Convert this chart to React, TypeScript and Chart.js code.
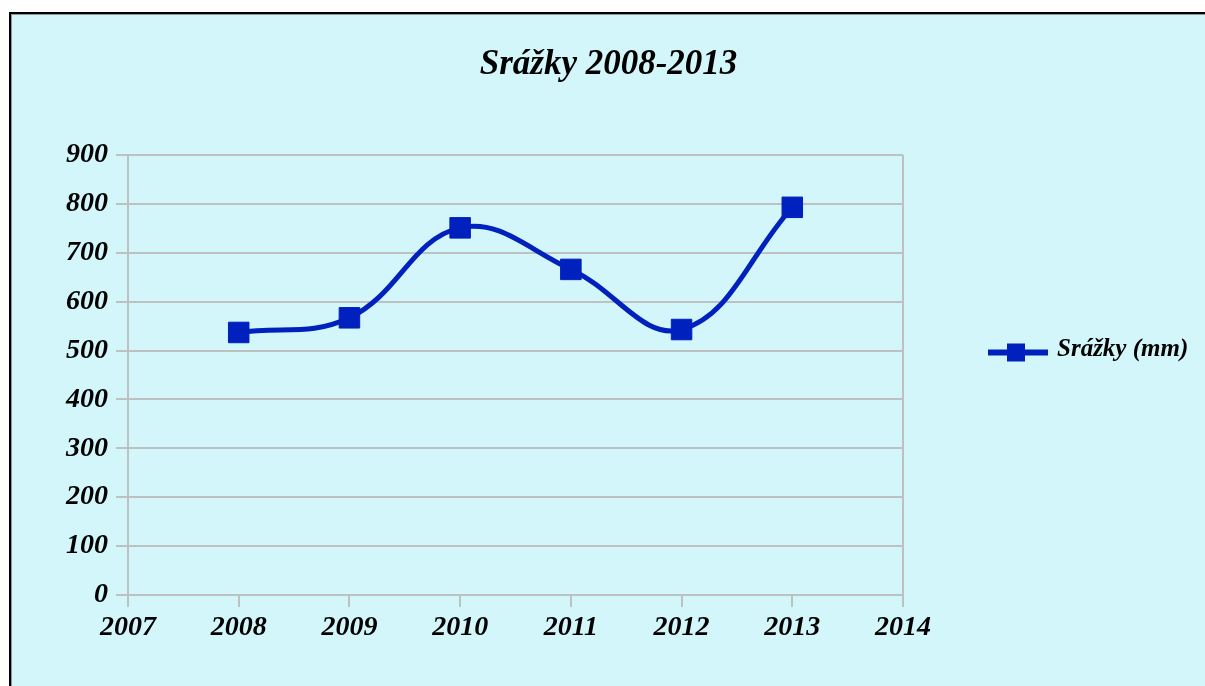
import React, { useEffect, useRef } from "react";
import { Chart, registerables } from "chart.js";

Chart.register(...registerables);

const TITLE = "Srážky 2008-2013";
const SERIES_LABEL = "Srážky (mm)";
const years = [2008, 2009, 2010, 2011, 2012, 2013];
const rainfall = [537, 567, 751, 666, 543, 793];
const X_MIN = 2007;
const X_MAX = 2014;
const Y_MIN = 0;
const Y_MAX = 900;
const Y_STEP = 100;

const BG = "#d2f6fa";
const BLUE = "#0021bd";
const GRID = "#bdc1c1";
const FONT = "'Liberation Serif', 'Times New Roman', serif";

const legendPlugin = {
  id: "lineSquareLegend",
  afterDraw(chart: any) {
    const { ctx, chartArea } = chart;
    const cy = chart.height / 2 + 2;
    const x0 = chartArea.right + 85;
    const x1 = chartArea.right + 145;
    const sx = chartArea.right + 113;
    ctx.save();
    ctx.strokeStyle = BLUE;
    ctx.lineWidth = 6;
    ctx.beginPath();
    ctx.moveTo(x0, cy);
    ctx.lineTo(x1, cy);
    ctx.stroke();
    ctx.fillStyle = BLUE;
    ctx.fillRect(sx - 9, cy - 9, 18, 18);
    ctx.fillStyle = "#000";
    ctx.font = `italic bold 25px ${FONT}`;
    ctx.textBaseline = "middle";
    ctx.textAlign = "left";
    ctx.fillText(SERIES_LABEL, chartArea.right + 154, cy - 3);
    ctx.restore();
  },
};

export default function App() {
  const ref = useRef<HTMLCanvasElement | null>(null);

  useEffect(() => {
    if (!ref.current) return;
    const tickFont = { family: FONT, size: 28, style: "italic" as const, weight: "bold" as const, lineHeight: 1.2 };
    const chart = new Chart(ref.current, {
      type: "line",
      data: {
        datasets: [
          {
            label: SERIES_LABEL,
            data: years.map((x, i) => ({ x, y: rainfall[i] })),
            borderColor: BLUE,
            backgroundColor: BLUE,
            borderWidth: 5,
            tension: 0.4,
            pointStyle: "rect",
            pointRadius: 14.5,
            pointBorderWidth: 1,
            pointBackgroundColor: BLUE,
            pointBorderColor: BLUE,
            fill: false,
          },
        ],
      },
      options: {
        animation: false,
        responsive: false,
        layout: { padding: 0 },
        plugins: {
          legend: { display: false },
          tooltip: { enabled: false },
          title: {
            display: true,
            text: TITLE,
            color: "#000",
            font: { family: FONT, size: 35, style: "italic", weight: "bold", lineHeight: 1.2 },
            padding: { top: 29, bottom: 69 },
          },
        },
        scales: {
          x: {
            type: "linear",
            min: X_MIN,
            max: X_MAX,
            afterFit: (s: any) => {
              s.height = 91;
            },
            ticks: {
              stepSize: 1,
              autoSkip: false,
              maxRotation: 0,
              color: "#000",
              font: tickFont,
              padding: 4,
              callback: (v: any) => String(v),
            },
            grid: {
              drawOnChartArea: true,
              color: (c: any) =>
                c.tick && (c.tick.value === X_MIN || c.tick.value === X_MAX) ? GRID : "rgba(0,0,0,0)",
              tickColor: GRID,
              tickLength: 12,
              lineWidth: 2,
            },
            border: { display: true, color: GRID, width: 2 },
          },
          y: {
            min: Y_MIN,
            max: Y_MAX,
            afterFit: (s: any) => {
              s.width = 116;
            },
            ticks: {
              stepSize: Y_STEP,
              color: "#000",
              font: tickFont,
              padding: 8,
            },
            grid: { color: GRID, tickColor: GRID, lineWidth: 2, tickLength: 12 },
            border: { display: true, color: GRID, width: 2 },
          },
          legendSpace: {
            type: "linear",
            position: "right",
            display: true,
            min: 0,
            max: 1,
            afterFit: (s: any) => {
              s.width = 302;
            },
            ticks: { display: false },
            grid: { display: false },
            border: { display: false },
          },
        },
      },
      plugins: [legendPlugin],
    });
    return () => chart.destroy();
  }, []);

  return (
    <div
      style={{
        position: "fixed",
        left: 9,
        top: 12,
        width: 1230,
        height: 700,
        borderTop: "2px solid #000",
        borderLeft: "2px solid #000",
        boxSizing: "border-box",
      }}
    >
      <div
        style={{
          width: "100%",
          height: "100%",
          boxSizing: "border-box",
          borderTop: "1px solid #8c9898",
          borderLeft: "1px solid #8c9898",
          background: BG,
        }}
      >
        <canvas ref={ref} width={1193} height={671} style={{ display: "block" }} />
      </div>
    </div>
  );
}
